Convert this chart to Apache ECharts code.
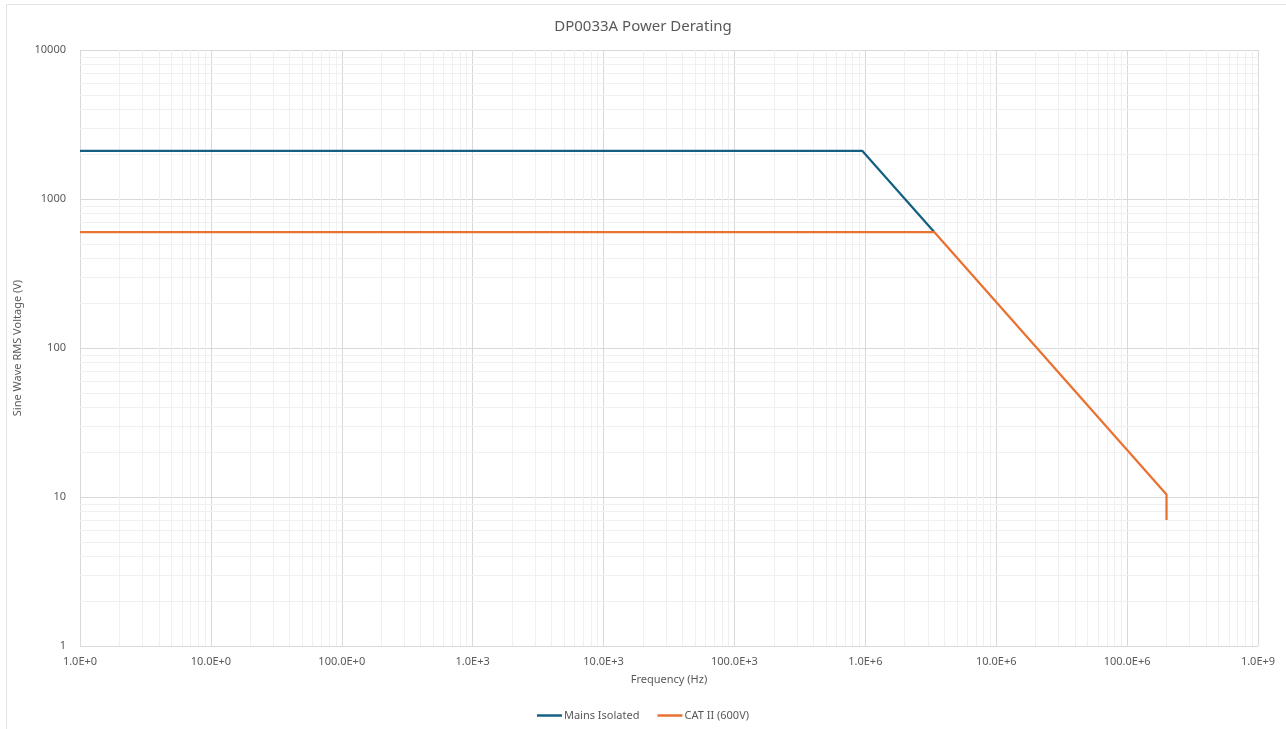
<!DOCTYPE html>
<html>
<head>
<meta charset="utf-8">
<title>DP0033A Power Derating</title>
<script src="https://cdn.jsdelivr.net/npm/echarts@6/dist/echarts.min.js"></script>
<style>
  html, body { margin: 0; padding: 0; background: #fff; }
  #chart { width: 1286px; height: 729px; }
</style>
</head>
<body>
<div id="chart"></div>
<script>
// data (frequency Hz, voltage V)
var mainsFreq = [1, 9.5e5, 3.36e6];
var mainsVolt = [2100, 2100, 600];
var catFreq = [1, 3.36e6, 2.0e8, 2.0e8];
var catVolt = [600, 600, 10.4, 7];

var xTickLabels = ['1.0E+0', '10.0E+0', '100.0E+0', '1.0E+3', '10.0E+3', '100.0E+3', '1.0E+6', '10.0E+6', '100.0E+6', '1.0E+9'];
var yTickLabels = ['1', '10', '100', '1000', '10000'];
var minorSteps = [2, 3, 4, 5, 6, 7, 8, 9];

function pairs(xs, ys) {
    var out = [];
    for (var i = 0; i < xs.length; i++) out.push([xs[i], ys[i]]);
    return out;
}

// minor grid lines (2..9 in each decade), drawn as mark lines
var minorLines = [];
for (var d = 0; d < 9; d++) {
    for (var k = 0; k < minorSteps.length; k++) minorLines.push({ xAxis: minorSteps[k] * Math.pow(10, d) });
}
for (var d = 0; d < 4; d++) {
    for (var k = 0; k < minorSteps.length; k++) minorLines.push({ yAxis: minorSteps[k] * Math.pow(10, d) });
}

var txt = '#595959';
var font = 'Noto Sans';

var myChart = echarts.init(document.getElementById('chart'));
var option = {
    animation: false,
    textStyle: { fontFamily: font },
    title: {
        text: 'DP0033A Power Derating',
        left: 'center',
        top: 14,
        textStyle: { fontSize: 15, fontWeight: 'normal', color: txt, fontFamily: font }
    },
    graphic: [{
        type: 'rect',
        shape: { x: 6.5, y: 4.5, width: 1300, height: 740 },
        style: { fill: 'none', stroke: '#e3e3e3', lineWidth: 1 },
        silent: true
    }],
    grid: { left: 80, right: 28, top: 50, bottom: 83 },
    legend: {
        data: ['Mains Isolated', 'CAT II (600V)'],
        top: 705,
        left: 'center',
        icon: 'rect',
        itemWidth: 25,
        itemHeight: 2.5,
        itemGap: 18,
        textStyle: { fontSize: 11, color: txt, padding: [0, 0, 0, -3] }
    },
    xAxis: {
        type: 'log',
        logBase: 10,
        min: 1,
        max: 1e9,
        name: 'Frequency (Hz)',
        nameLocation: 'middle',
        nameGap: 28,
        nameTextStyle: { fontSize: 11, color: txt },
        axisLine: { show: false },
        axisTick: { show: false },
        axisLabel: {
            fontSize: 11,
            color: txt,
            margin: 10,
            formatter: function (v) { return xTickLabels[Math.round(Math.log10(v))]; }
        },
        splitLine: { show: true, lineStyle: { color: '#d9d9d9', width: 1 } }
    },
    yAxis: {
        type: 'log',
        logBase: 10,
        min: 1,
        max: 10000,
        name: 'Sine Wave RMS Voltage (V)',
        nameLocation: 'middle',
        nameGap: 50,
        nameTextStyle: { fontSize: 11, color: txt },
        axisLine: { show: false },
        axisTick: { show: false },
        axisLabel: {
            fontSize: 11,
            color: txt,
            margin: 14,
            formatter: function (v) { return yTickLabels[Math.round(Math.log10(v))]; }
        },
        splitLine: { show: true, lineStyle: { color: '#d9d9d9', width: 1 } }
    },
    series: [{
        name: 'minor',
        type: 'line',
        data: [[1, 1]],
        showSymbol: false,
        lineStyle: { opacity: 0 },
        z: 1,
        silent: true,
        markLine: {
            z: 1,
            silent: true,
            symbol: 'none',
            label: { show: false },
            lineStyle: { color: '#f0f0f0', width: 1, type: 'solid' },
            data: minorLines
        }
    }, {
        name: 'Mains Isolated',
        type: 'line',
        data: pairs(mainsFreq, mainsVolt),
        showSymbol: false,
        color: '#156082',
        lineStyle: { color: '#156082', width: 2.25 },
        z: 10
    }, {
        name: 'CAT II (600V)',
        type: 'line',
        data: pairs(catFreq, catVolt),
        showSymbol: false,
        color: '#e97132',
        lineStyle: { color: '#e97132', width: 2.25 },
        z: 11
    }]
};
myChart.setOption(option);
</script>
</body>
</html>
